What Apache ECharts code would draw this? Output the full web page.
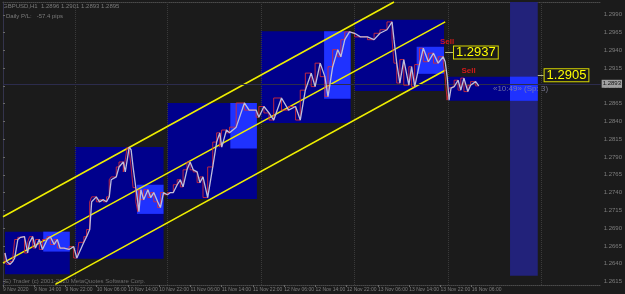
<!DOCTYPE html>
<html>
<head>
<meta charset="utf-8">
<script src="https://cdn.jsdelivr.net/npm/echarts@6/dist/echarts.min.js"></script>
<style>
html, body { margin: 0; padding: 0; background: #1b1b1b; }
#chart { width: 625px; height: 294px; }
</style>
</head>
<body>
<div id="chart"></div>
<script>
// H1 closes: bar position and price
const closeBars = [0.5, 1.0, 1.8, 2.5, 3.0, 3.8, 4.5, 5.5, 6.3, 6.8, 7.6, 8.3, 9.3, 10.1, 11.3, 12.1, 13.1, 13.9, 14.6, 15.6,
  16.9, 18.1, 18.9, 19.4, 20.7, 21.4, 22.2, 22.7, 23.9, 24.7, 25.7, 26.5, 27.2, 27.7, 29.0, 29.7, 30.8, 31.3, 31.8, 32.3,
  32.8, 33.3, 34.0, 34.5, 34.8, 35.3, 36.0, 37.1, 37.8, 38.6, 39.6, 40.3, 41.1, 42.1, 42.9, 43.6, 44.6, 45.4, 46.1, 47.1,
  47.9, 48.7, 49.7, 50.4, 51.2, 52.4, 53.7, 54.7, 55.5, 56.0, 57.2, 58.0, 59.7, 61.8, 63.0, 64.8, 65.5, 66.8, 68.1, 69.3,
  71.3, 73.1, 74.9, 76.1, 77.4, 78.9, 79.9, 81.2, 82.4, 83.2, 84.4, 85.7, 86.5, 87.5, 88.7, 90.0, 91.5, 93.3, 95.0, 96.5,
  98.3, 99.6, 100.1, 100.8, 101.6, 102.6, 103.9, 104.6, 105.4, 106.6, 107.6, 108.9, 110.2, 111.4, 112.7, 113.2, 113.7, 114.2,
  114.7, 115.5, 116.5, 117.2, 118.0, 119.0, 119.7, 121.0, 121.8];
const closePrices = [1.2655, 1.2643, 1.2639, 1.2643, 1.2648, 1.2674, 1.2677, 1.2678, 1.2655, 1.2670, 1.2678, 1.2662, 1.2674, 1.2660, 1.2674, 1.2678, 1.2667, 1.2674, 1.2662, 1.2662,
  1.2660, 1.2664, 1.2648, 1.2647, 1.2670, 1.2678, 1.2688, 1.2727, 1.2734, 1.2727, 1.2730, 1.2727, 1.2734, 1.2758, 1.2762, 1.2776, 1.2783, 1.2769, 1.2786, 1.2804,
  1.2800, 1.2776, 1.2747, 1.2727, 1.2713, 1.2744, 1.2730, 1.2744, 1.2733, 1.2740, 1.2727, 1.2719, 1.2740, 1.2737, 1.2740, 1.2740, 1.2751, 1.2758, 1.2748, 1.2772,
  1.2783, 1.2772, 1.2769, 1.2754, 1.2762, 1.2733, 1.2776, 1.2811, 1.2824, 1.2804, 1.2828, 1.2824, 1.2832, 1.2866, 1.2856, 1.2856, 1.2846, 1.2861, 1.2852, 1.2842,
  1.2873, 1.2856, 1.2861, 1.2842, 1.2884, 1.2908, 1.2889, 1.2922, 1.2903, 1.2875, 1.2917, 1.2941, 1.2931, 1.2955, 1.2966, 1.2964, 1.2959, 1.2959, 1.2955, 1.2964,
  1.2969, 1.2980, 1.2955, 1.2922, 1.2894, 1.2927, 1.2891, 1.2917, 1.2889, 1.2920, 1.2943, 1.2924, 1.2936, 1.2922, 1.2931, 1.2924, 1.2903, 1.2870,
  1.2887, 1.2889, 1.2898, 1.2884, 1.2901, 1.2882, 1.2891, 1.2896, 1.2890];

// daily range boxes
const boxStart = [0.5, 18.4, 42.1, 66.0, 90.0, 113.9];
const boxEnd = [17.1, 41.1, 65.0, 89.0, 112.9, 136.9];
const boxLow = [1.2625, 1.2647, 1.2731, 1.2838, 1.2883, 1.2869];
const boxHigh = [1.2685, 1.2804, 1.2866, 1.2967, 1.2983, 1.2903];
// session boxes (lighter blue)
const sessStart = [10.3, 34.3, 58.2, 82.2, 105.9, 129.8];
const sessEnd = [17.1, 41.1, 65.0, 89.0, 112.9, 136.9];
const sessLow = [1.2657, 1.2710, 1.2802, 1.2872, 1.2907, 1.2869];
const sessHigh = [1.2685, 1.2751, 1.2866, 1.2967, 1.2945, 1.2903];
// highlighted time zone
const zoneStart = [129.8];
const zoneEnd = [136.9];
const zoneLow = [1.2623];
const zoneHigh = [1.3008];

const dayStarts = [18.4, 42.1, 66.0, 90.0, 113.9, 137.9];

// regression channel
const channelStartBar = [0, 0, 13.4];
const channelStartPrice = [1.2706, 1.2641, 1.2611];
const channelEndBar = [100.1, 113.2, 113.2];
const channelEndPrice = [1.3008, 1.2980, 1.2912];

// price level tags
const levelStart = [113.2, 136.9];
const levelEnd = [115.2, 138.4];
const levelPrice = [1.2937, 1.2905];

const sellBars = [113.7, 119.2];
const sellPrices = [1.2952, 1.2911];
const bidPrice = 1.2893;

const priceTicks = [1.2615, 1.2640, 1.2665, 1.2690, 1.2715, 1.2740, 1.2765, 1.2790,
  1.2815, 1.2840, 1.2865, 1.2890, 1.2915, 1.2940, 1.2965, 1.2990];
const timeTickBars = [0, 8, 16, 24, 32, 40, 48, 56, 64, 72, 80, 88, 96, 104, 112, 120];
const timeTickLabels = ['9 Nov 2020', '9 Nov 14:00', '9 Nov 22:00', '10 Nov 06:00', '10 Nov 14:00', '10 Nov 22:00',
  '11 Nov 06:00', '11 Nov 14:00', '11 Nov 22:00', '12 Nov 06:00', '12 Nov 14:00', '12 Nov 22:00',
  '13 Nov 06:00', '13 Nov 14:00', '13 Nov 22:00', '16 Nov 06:00'];

function zip4(a, b, c, d) {
  return a.map((v, i) => [v, b[i], c[i], d[i]]);
}
function rectItem(color) {
  return function (params, api) {
    const p0 = api.coord([api.value(0), api.value(3)]);
    const p1 = api.coord([api.value(1), api.value(2)]);
    return {
      type: 'rect',
      shape: { x: p0[0], y: p0[1], width: p1[0] - p0[0], height: p1[1] - p0[1] },
      style: { fill: color }
    };
  };
}

const closeData = closeBars.map((b, i) => [b, closePrices[i]]);
const font = 'Liberation Sans, Arial, sans-serif';

const chart = echarts.init(document.getElementById('chart'));
chart.setOption({
  backgroundColor: '#1b1b1b',
  animation: false,
  grid: { left: 0, right: 18, top: 2, bottom: 9 },
  xAxis: [{
    type: 'value', min: 0, max: 153,
    axisLine: { lineStyle: { color: '#4a4a4a', type: 'dotted' } },
    axisTick: { customValues: timeTickBars, length: 2, lineStyle: { color: '#6a6a6a' } },
    axisLabel: {
      customValues: timeTickBars,
      formatter: v => timeTickLabels[timeTickBars.indexOf(v)] || '',
      fontSize: 5, color: '#7e7e7e', align: 'left', margin: 2, fontFamily: font
    },
    splitLine: { show: false }
  }, {
    type: 'value', min: 0, max: 153, position: 'top',
    axisLine: { lineStyle: { color: '#4a4a4a', type: 'dotted' } },
    axisTick: { show: false }, axisLabel: { show: false }, splitLine: { show: false }
  }],
  yAxis: {
    type: 'value', position: 'right', min: 1.2610, max: 1.3008,
    axisLine: { show: true, lineStyle: { color: '#34344c' } },
    axisTick: { show: true, customValues: priceTicks, length: 2, lineStyle: { color: '#6a6a6a' } },
    axisLabel: {
      customValues: priceTicks, formatter: v => v.toFixed(4),
      fontSize: 6, color: '#7e7e7e', margin: 3, fontFamily: font
    },
    splitLine: { show: false }
  },
  graphic: [
    { type: 'text', left: 3, top: 3, style: { text: 'GBPUSD,H1  1.2896 1.2901 1.2893 1.2895', fill: '#7c7c7c', fontSize: 6, fontFamily: font } },
    { type: 'text', left: 6, top: 13, style: { text: 'Daily P/L:   -57.4 pips', fill: '#7c7c7c', fontSize: 6, fontFamily: font } },
    { type: 'text', left: 3, top: 278, style: { text: '(E) Trader (c) 2001-2020 MetaQuotes Software Corp.', fill: '#6c6c6c', fontSize: 6, fontFamily: font } }
  ],
  series: [
    {
      name: 'separators', type: 'line', data: [], z: 1, silent: true,
      markLine: {
        symbol: ['none', 'none'], silent: true, precision: 4, label: { show: false },
        lineStyle: { color: '#3a3a3a', type: 'dotted', width: 1 },
        data: dayStarts.map(d => ({ xAxis: d }))
      }
    },
    {
      name: 'days', type: 'custom', z: 2, silent: true,
      encode: { x: [0, 1], y: [2, 3] },
      renderItem: rectItem('#00008c'),
      data: zip4(boxStart, boxEnd, boxLow, boxHigh)
    },
    {
      name: 'zone', type: 'custom', z: 3, silent: true,
      encode: { x: [0, 1], y: [2, 3] },
      renderItem: rectItem('#22227a'),
      data: zip4(zoneStart, zoneEnd, zoneLow, zoneHigh)
    },
    {
      name: 'sessions', type: 'custom', z: 4, silent: true,
      encode: { x: [0, 1], y: [2, 3] },
      renderItem: rectItem('#1f32ff'),
      data: zip4(sessStart, sessEnd, sessLow, sessHigh)
    },
    {
      name: 'channel', type: 'line', data: [], z: 5, silent: true,
      markLine: {
        symbol: ['none', 'none'], silent: true, precision: 4, label: { show: false },
        lineStyle: { color: '#f0f000', type: 'solid', width: 1.5 },
        data: channelStartBar.map((b, i) => [
          { coord: [b, channelStartPrice[i]] },
          { coord: [channelEndBar[i], channelEndPrice[i]] }
        ])
      }
    },
    {
      name: 'bars', type: 'line', z: 6, silent: true, step: 'start',
      showSymbol: false, data: closeData,
      lineStyle: { color: '#d42a38', width: 0.9 }
    },
    {
      name: 'close', type: 'line', z: 7, silent: true,
      showSymbol: false, data: closeData,
      lineStyle: { color: '#bebedc', width: 1.3 }
    },
    {
      name: 'bid', type: 'line', data: [], z: 4, silent: true,
      markLine: {
        symbol: ['none', 'none'], silent: true, precision: 4,
        lineStyle: { color: '#2c2c4c', type: 'solid', width: 1 },
        label: {
          position: 'end', distance: 1, formatter: () => bidPrice.toFixed(4),
          backgroundColor: '#a0a0a0', color: '#111', fontSize: 6, padding: [1, 1], fontFamily: font
        },
        data: [{ yAxis: bidPrice }]
      }
    },
    {
      name: 'levels', type: 'line', data: [], z: 8, silent: true,
      markLine: {
        symbol: ['none', 'none'], silent: true, precision: 4,
        lineStyle: { color: '#b8b880', type: 'solid', width: 1 },
        label: {
          position: 'end', distance: 1,
          color: '#ffff00', fontSize: 13, borderColor: '#d8d800', borderWidth: 1,
          padding: [0, 2, -1, 2], backgroundColor: '#1b1b1b', fontFamily: font
        },
        data: levelStart.map((b, i) => [
          { coord: [b, levelPrice[i]] },
          { coord: [levelEnd[i], levelPrice[i]], label: { formatter: levelPrice[i].toFixed(4) } }
        ])
      }
    },
    {
      name: 'notes', type: 'scatter', z: 9, silent: true, symbolSize: 1,
      itemStyle: { color: 'rgba(0,0,0,0)' },
      data: [
        ...sellBars.map((b, i) => ({
          value: [b, sellPrices[i]],
          label: { show: true, position: 'inside', formatter: 'Sell', color: '#ff1a1a', fontWeight: 'bold', fontSize: 8, fontFamily: font }
        })),
        {
          value: [125.3, 1.2886],
          label: { show: true, position: 'right', distance: 0, formatter: '\u00ab10:49\u00bb (Sp: 3)', color: '#8a8aa8', fontSize: 8, fontFamily: font }
        }
      ]
    }
  ]
});
</script>
</body>
</html>
